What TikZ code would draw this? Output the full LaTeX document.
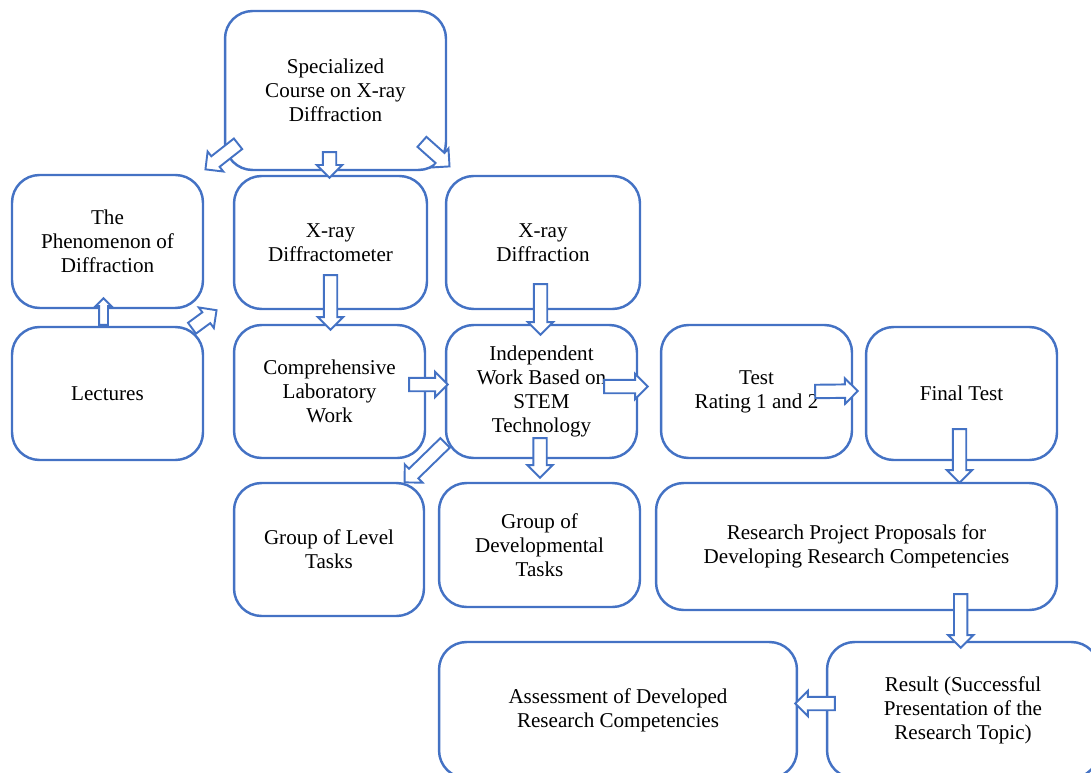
\documentclass[tikz,border=0pt]{standalone}
\usepackage{fontspec}
\setmainfont{Liberation Serif}
\usetikzlibrary{shapes.arrows, calc}

\definecolor{boxblue}{RGB}{68,114,196}

% hollow block arrow from #2 to #3
\newcommand\blockarrow[3][]{%
  \path let \p1=(#2), \p2=(#3),
    \n1={atan2(\y2-\y1,\x2-\x1)}, \n2={veclen(\x2-\x1,\y2-\y1)} in
    node[flow, #1, rotate=\n1, minimum height=\n2, anchor=tail] at (\p1) {};%
}

\begin{document}
\begin{tikzpicture}[
        x=0.02cm, y=-0.02cm,
        stage/.style={draw=boxblue, line width=1.4pt, rounded corners=0.55cm, align=center, inner sep=0pt,
            font=\fontsize{12}{13.7}\selectfont},
        flow/.style={single arrow, draw=boxblue, fill=white, line width=1.1pt, inner xsep=0pt,
            inner ysep=0.115cm, single arrow head extend=0.12cm, single arrow tip angle=90},
        thin flow/.style={inner ysep=0.07cm, single arrow head extend=0.07cm}
    ]
    \useasboundingbox (0,0) rectangle (1091,773);
    \clip (0,0) rectangle (1091,773);

    % Stages - positioned with coordinates
    \node[stage, minimum width=4.42cm, minimum height=3.18cm] (course) at (335.5,90.5) {Specialized\\Course on X-ray\\Diffraction};
    \node[stage, minimum width=3.82cm, minimum height=2.66cm] (phenom) at (107.5,241.5) {The\\Phenomenon of\\Diffraction};
    \node[stage, minimum width=3.86cm, minimum height=2.66cm] (meter) at (330.5,242.5) {X-ray\\Diffractometer};
    \node[stage, minimum width=3.88cm, minimum height=2.66cm] (xrd) at (543,242.5) {X-ray\\Diffraction};
    \node[stage, minimum width=3.82cm, minimum height=2.66cm] (lectures) at (107.5,393.5) {Lectures};
    \node[stage, minimum width=3.82cm, minimum height=2.66cm] (labwork) at (329.5,391.5) {Comprehensive\\Laboratory\\Work};
    \node[stage, minimum width=3.82cm, minimum height=2.66cm] (stem) at (541.5,391.5) {Independent\\Work Based on\\STEM\\Technology};
    \node[stage, minimum width=3.82cm, minimum height=2.66cm] (rating) at (756.5,391.5) {Test\\Rating 1 and 2};
    \node[stage, minimum width=3.82cm, minimum height=2.66cm] (final) at (961.5,393.5) {Final Test};
    \node[stage, minimum width=3.80cm, minimum height=2.66cm] (level) at (329,549.5) {Group of Level\\Tasks};
    \node[stage, minimum width=4.02cm, minimum height=2.48cm] (devel) at (539.5,545) {Group of\\Developmental\\Tasks};
    \node[stage, minimum width=8.02cm, minimum height=2.54cm] (proposals) at (856.5,546.5) {Research Project Proposals for\\Developing Research Competencies};
    \node[stage, minimum width=7.16cm, minimum height=2.72cm] (assess) at (618,710) {Assessment of Developed\\Research Competencies};
    \node[stage, minimum width=5.44cm, minimum height=2.72cm] (result) at (963,710) {Result (Successful\\Presentation of the\\Research Topic)};

    % Block arrows
    \blockarrow{$(course.south west)+(15,-28)$}{$(phenom.north east)+(2,-5)$}
    \blockarrow{$(course.south)+(-6,-20)$}{$(meter.north)+(-1,2)$}
    \blockarrow{$(course.south east)+(-26,-30)$}{$(xrd.north west)+(4,-9)$}
    \blockarrow[thin flow]{$(lectures.north)+(-4,0)$}{$(phenom.south)+(-4,-10)$}
    \blockarrow{$(lectures.north east)+(-13,3)$}{$(labwork.north west)+(-17,-13)$}
    \blockarrow{$(meter.south)+(0,-36)$}{$(labwork.north)+(1,5)$}
    \blockarrow{$(xrd.south)+(-2.5,-27)$}{$(stem.north)+(-1,10)$}
    \blockarrow{$(labwork.east)+(-18,-7)$}{$(stem.west)+(2,-7)$}
    \blockarrow{$(stem.east)+(-35,-5)$}{$(rating.west)+(-13,-5)$}
    \blockarrow{$(rating.east)+(-39,0)$}{$(final.west)+(-8,-2.5)$}
    \blockarrow{$(stem.south west)+(1,-17)$}{$(level.north east)+(-20,0)$}
    \blockarrow{$(stem.south)+(-1.5,-22)$}{$(devel.north)+(0.5,-5)$}
    \coordinate (f1) at ($(final.south)+(-2,-33)$);
    \blockarrow{f1}{f1 |- proposals.north}
    \coordinate (p1) at ($(proposals.south east)+(-97.5,-18)$);
    \blockarrow{p1}{$(p1 |- result.north)+(0,6)$}
    \blockarrow{$(result.west)+(10,-6.5)$}{$(assess.east)+(-2,-6.5)$}

\end{tikzpicture}
\end{document}
